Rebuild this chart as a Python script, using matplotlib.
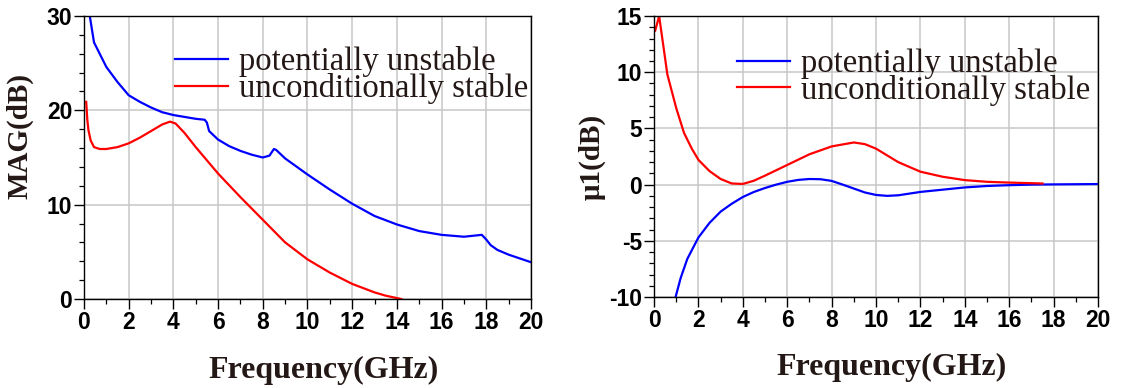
import numpy as np
import matplotlib.pyplot as plt
from matplotlib.ticker import MultipleLocator

plt.rcParams['axes.unicode_minus'] = False

# MAG, potentially unstable design
f_mag_pu = [0.26, 0.45, 1.0, 1.5, 2.0, 2.5, 3.0, 3.5, 4.0, 4.5, 5.0, 5.4, 5.5, 5.6,
            6.0, 6.5, 7.0, 7.5, 8.0, 8.3, 8.5, 8.6, 9.0, 10.0, 11.0, 12.0, 13.0,
            14.0, 15.0, 16.0, 17.0, 17.8, 18.0, 18.2, 18.5, 19.0, 19.5, 20.0]
mag_pu = [30.0, 27.2, 24.6, 23.0, 21.6, 20.9, 20.3, 19.8, 19.5, 19.3, 19.1, 19.0, 18.7, 17.8,
          16.9, 16.2, 15.7, 15.3, 15.0, 15.2, 15.9, 15.8, 14.9, 13.2, 11.6, 10.1, 8.8,
          7.9, 7.2, 6.8, 6.6, 6.8, 6.3, 5.7, 5.2, 4.7, 4.3, 3.9]

# MAG, unconditionally stable design
f_mag_us = [0.1, 0.15, 0.2, 0.3, 0.45, 0.7, 1.0, 1.5, 2.0, 2.5, 3.0, 3.5, 3.85, 4.1,
            4.5, 5.0, 5.5, 6.0, 7.0, 8.0, 9.0, 10.0, 11.0, 12.0, 13.0, 13.5, 14.2]
mag_us = [20.9, 19.0, 17.9, 16.8, 16.1, 15.9, 15.9, 16.1, 16.5, 17.1, 17.8, 18.5, 18.8, 18.6,
          17.6, 16.1, 14.7, 13.3, 10.8, 8.4, 6.0, 4.2, 2.8, 1.6, 0.7, 0.35, 0.0]

# mu1, potentially unstable design
f_mu_pu = [0.97, 1.2, 1.5, 2.0, 2.5, 3.0, 3.5, 4.0, 4.5, 5.0, 5.5, 6.0, 6.5, 7.0, 7.5,
           8.0, 8.5, 9.0, 9.5, 10.0, 10.5, 11.0, 12.0, 13.0, 14.0, 15.0, 16.0, 17.0, 18.0, 20.0]
mu_pu = [-10.0, -8.3, -6.6, -4.7, -3.4, -2.4, -1.7, -1.1, -0.65, -0.3, 0.0, 0.25, 0.42, 0.5, 0.48,
         0.33, 0.0, -0.35, -0.7, -0.92, -1.0, -0.95, -0.65, -0.45, -0.25, -0.12, -0.05, 0.0, 0.02, 0.05]

# mu1, unconditionally stable design
f_mu_us = [0.05, 0.23, 0.3, 0.6, 1.0, 1.35, 1.7, 2.0, 2.5, 3.0, 3.5, 4.0, 4.5, 5.0, 6.0,
           7.0, 8.0, 9.0, 9.5, 10.0, 10.5, 11.0, 12.0, 13.0, 14.0, 15.0, 16.0, 17.5]
mu_us = [13.7, 15.0, 14.0, 9.8, 6.8, 4.6, 3.2, 2.2, 1.2, 0.5, 0.1, 0.06, 0.35, 0.8, 1.75,
         2.7, 3.4, 3.75, 3.6, 3.2, 2.6, 2.0, 1.15, 0.7, 0.4, 0.25, 0.18, 0.1]

labels = ['potentially unstable', 'unconditionally stable']
text_color = '#231815'

fig = plt.figure(figsize=(11.24, 3.88), dpi=100)
ax1 = fig.add_axes([0.0747, 0.2294, 0.3977, 0.7294])
ax2 = fig.add_axes([0.5819, 0.2345, 0.3950, 0.7242])


def style_axes(ax, ylim, ymajor, yminor, ylabel, ylab_xy, leg_xy):
    ax.set_xlim(0, 20)
    ax.set_ylim(*ylim)
    ax.xaxis.set_major_locator(MultipleLocator(2))
    ax.xaxis.set_minor_locator(MultipleLocator(1))
    ax.yaxis.set_major_locator(MultipleLocator(ymajor))
    ax.yaxis.set_minor_locator(MultipleLocator(yminor))
    ax.grid(True, which='major', color='#c8c8c8', lw=1.1)
    ax.set_axisbelow(True)
    ax.tick_params(which='major', direction='out', length=7, width=1, pad=1.5)
    ax.tick_params(which='minor', direction='out', length=3.5, width=0.9)
    for lab in ax.get_xticklabels() + ax.get_yticklabels():
        lab.set_fontfamily('Liberation Sans')
        lab.set_fontweight('bold')
        lab.set_fontsize(16.5)
    for sp in ax.spines.values():
        sp.set_linewidth(1)
    ax.set_xlabel('Frequency(GHz)', family='Liberation Serif', weight='bold',
                  fontsize=23, color=text_color)
    ax.xaxis.set_label_coords(0.535, -0.2)
    ax.set_ylabel(ylabel, family='Liberation Serif', weight='bold',
                  fontsize=21, color=text_color)
    ax.yaxis.set_label_coords(*ylab_xy)
    ax.legend(labels, loc='upper left', bbox_to_anchor=leg_xy, frameon=False,
              prop={'family': 'Liberation Serif', 'size': 23.5}, labelcolor=text_color,
              handlelength=1.62, handletextpad=0.33, labelspacing=-0.13, borderpad=0)


ax1.plot(f_mag_pu, mag_pu, color='#0000ff', lw=1.6)
ax1.plot(f_mag_us, mag_us, color='#ff0000', lw=1.6)
style_axes(ax1, (0, 30), 10, 2, 'MAG(dB)', (-0.112, 0.575), (0.168, 0.951))

ax2.plot(f_mu_pu, mu_pu, color='#0000ff', lw=1.6)
ax2.plot(f_mu_us, mu_us, color='#ff0000', lw=1.6)
style_axes(ax2, (-10, 15), 5, 1, 'μ1(dB)', (-0.11, 0.5), (0.151, 0.944))

fig.savefig('out.png', dpi=100)
